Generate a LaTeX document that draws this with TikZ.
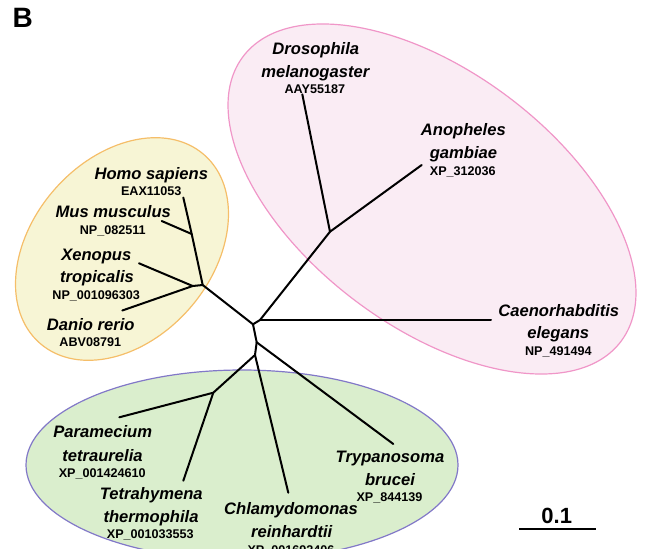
\documentclass[tikz,border=0pt]{standalone}
\usepackage{fontspec}
\setmainfont{Liberation Sans}
\definecolor{yfill}{RGB}{247,245,213}
\definecolor{yline}{RGB}{245,190,105}
\definecolor{pfill}{RGB}{250,236,244}
\definecolor{pline}{RGB}{240,150,200}
\definecolor{gfill}{RGB}{218,238,205}
\definecolor{gline}{RGB}{130,120,200}
\begin{document}
\begin{tikzpicture}[x=1pt,y=1pt,
  sp/.style={font=\fontsize{16.6}{20}\selectfont\bfseries\itshape, text height=12pt, text depth=0pt, inner sep=0pt},
  acc/.style={font=\fontsize{12.6}{15}\selectfont\bfseries, text height=9pt, text depth=0pt, inner sep=0pt},
  br/.style={line width=2pt, line cap=round, line join=round},
  clade/.style={line width=1.2pt}]
\useasboundingbox (0,0) rectangle (646,-549);
% clade ellipses
\draw[clade, fill=yfill, draw=yline, rotate around={49:(122,-249)}] (122,-249) ellipse (125 and 90);
\draw[clade, fill=pfill, draw=pline, rotate around={-37:(432,-199)}] (432,-199) ellipse (236.6 and 127.4);
\draw[clade, fill=gfill, draw=gline] (242,-465) ellipse (216 and 95);
% tree coordinates
\coordinate (c0) at (253,-324.3);
\coordinate (n2) at (260,-320);
\coordinate (ins) at (330,-231.7);
\coordinate (dmel) at (302.3,-94.3);
\coordinate (agam) at (421.7,-165);
\coordinate (cele) at (491,-320);
\coordinate (l1) at (256.7,-342.3);
\coordinate (tbru) at (393.3,-444);
\coordinate (l2) at (255,-355);
\coordinate (cil) at (213.3,-392.7);
\coordinate (crei) at (288.3,-492.7);
\coordinate (ptet) at (119.3,-417.3);
\coordinate (tthe) at (183.3,-480.7);
\coordinate (vert) at (202.7,-285);
\coordinate (hm) at (191.7,-234);
\coordinate (hsap) at (183.3,-197.5);
\coordinate (mmus) at (161.7,-221);
\coordinate (xd) at (192.7,-286);
\coordinate (xtro) at (139,-263.3);
\coordinate (drer) at (122.3,-310.5);
% branches
\draw[br] (c0) -- (n2) -- (ins) -- (dmel);
\draw[br] (ins) -- (agam);
\draw[br] (n2) -- (cele);
\draw[br] (c0) -- (l1) -- (tbru);
\draw[br] (l1) -- (l2) -- (cil) -- (ptet);
\draw[br] (cil) -- (tthe);
\draw[br] (l2) -- (crei);
\draw[br] (c0) -- (vert) -- (hm) -- (hsap);
\draw[br] (hm) -- (mmus);
\draw[br] (vert) -- (xd) -- (xtro);
\draw[br] (xd) -- (drer);
% labels
\node[sp] (dmel1) at (315.8,-48.3) {Drosophila};
\node[sp] (dmel2) at (315.3,-71) {melanogaster};
\node[acc] (dmela) at (314.8,-89) {AAY55187};
\node[sp] (agam1) at (463.3,-129.3) {Anopheles};
\node[sp] (agam2) at (463.5,-152.3) {gambiae};
\node[acc] (agama) at (462.8,-171) {XP\_312036};
\node[sp] (cele1) at (558.8,-310) {Caenorhabditis};
\node[sp] (cele2) at (558.3,-332.7) {elegans};
\node[acc] (celea) at (558.3,-351) {NP\_491494};
\node[sp] (tbru1) at (390,-456.7) {Trypanosoma};
\node[sp] (tbru2) at (390,-479.3) {brucei};
\node[acc] (tbrua) at (389.5,-497.3) {XP\_844139};
\node[sp] (crei1) at (291,-508.3) {Chlamydomonas};
\node[sp] (crei2) at (291.7,-531.7) {reinhardtii};
\node[acc] (creia) at (291,-550) {XP\_001692406};
\node[sp] (ptet1) at (102.7,-431.7) {Paramecium};
\node[sp] (ptet2) at (102.5,-455) {tetraurelia};
\node[acc] (pteta) at (102.2,-473.3) {XP\_001424610};
\node[sp] (tthe1) at (151.3,-493.3) {Tetrahymena};
\node[sp] (tthe2) at (151,-516) {thermophila};
\node[acc] (tthea) at (150.3,-534) {XP\_001033553};
\node[sp] (hsap1) at (151.3,-173.3) {Homo sapiens};
\node[acc] (hsapa) at (151.2,-191) {EAX11053};
\node[sp] (mmus1) at (113.3,-211.7) {Mus musculus};
\node[acc] (mmusa) at (112.8,-230) {NP\_082511};
\node[sp] (xtro1) at (96.3,-254) {Xenopus};
\node[sp] (xtro2) at (97,-276.7) {tropicalis};
\node[acc] (xtroa) at (96.2,-295) {NP\_001096303};
\node[sp] (drer1) at (90.8,-324) {Danio rerio};
\node[acc] (drera) at (90.3,-342.3) {ABV08791};
% panel letter
\node[font=\fontsize{28}{30}\selectfont\bfseries, inner sep=0pt, text height=20pt, text depth=0pt] (panel) at (22.8,-17.3) {B};
% scale bar
\coordinate (sb1) at (519,-529);
\coordinate (sb2) at (596,-529);
\draw[line width=2.5pt] (sb1) -- (sb2);
\node[font=\fontsize{22}{24}\selectfont\bfseries, inner sep=0pt, text height=16pt, text depth=0pt] (sbl) at (556.7,-515) {0.1};
\end{tikzpicture}
\end{document}
